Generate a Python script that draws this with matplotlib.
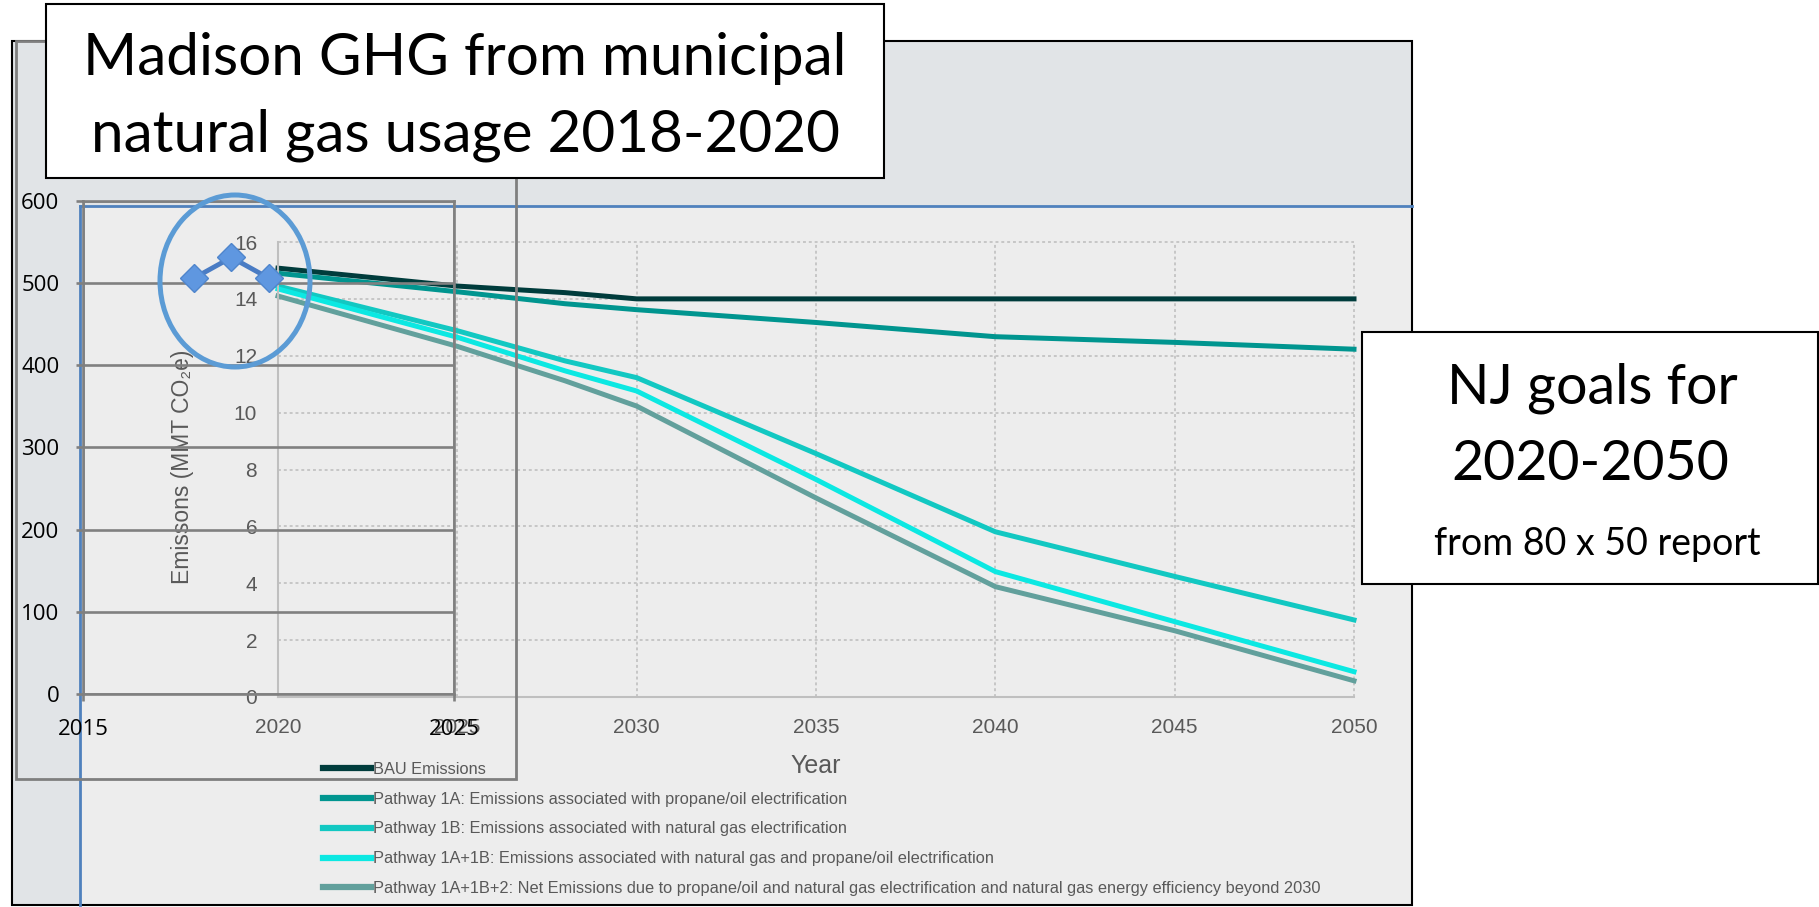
import matplotlib
matplotlib.use('Agg')

import matplotlib.pyplot as plt
from matplotlib import font_manager
from matplotlib.patches import Rectangle, Ellipse

W, H = 1819, 907

# NJ 80x50 report pathways, MMT CO2e
nj_years = [2020, 2025, 2028, 2030, 2035, 2040, 2045, 2050]
bau = [15.08, 14.45, 14.22, 14.0, 14.0, 14.0, 14.0, 14.0]
path_1a = [14.9, 14.25, 13.83, 13.62, 13.17, 12.67, 12.47, 12.23]
path_1b = [14.45, 12.88, 11.82, 11.23, 8.56, 5.81, 4.24, 2.71]
path_1a1b = [14.35, 12.65, 11.47, 10.76, 7.65, 4.41, 2.65, 0.89]
path_1a1b2 = [14.1, 12.33, 11.12, 10.23, 7.0, 3.88, 2.33, 0.57]
nj_labels = [
    'BAU Emissions',
    'Pathway 1A: Emissions associated with propane/oil electrification',
    'Pathway 1B: Emissions associated with natural gas electrification',
    'Pathway 1A+1B: Emissions associated with natural gas and propane/oil electrification',
    'Pathway 1A+1B+2: Net Emissions due to propane/oil and natural gas electrification '
    'and natural gas energy efficiency beyond 2030',
]
nj_colors = ['#003c3c', '#00958f', '#12c8c2', '#0ce8e2', '#62a09c']

# Madison municipal natural gas GHG
mad_years = [2018, 2019, 2020]
mad_ghg = [506, 531, 506]

installed = {f.name for f in font_manager.fontManager.ttflist}
if 'Liberation Sans Narrow' in installed:
    narrow, leg_size = 'Liberation Sans Narrow', 14.0
else:
    narrow, leg_size = 'Liberation Sans', 11.8

plt.rcParams['font.family'] = ['Liberation Sans', 'DejaVu Sans']

fig = plt.figure(figsize=(W / 100, H / 100), dpi=100)


def px_axes(left, top, right, bottom, **kw):
    return fig.add_axes([left / W, 1 - bottom / H, (right - left) / W, (bottom - top) / H], **kw)


# slide background / frame
bg = fig.add_axes([0, 0, 1, 1], zorder=0)
bg.set_xlim(0, W)
bg.set_ylim(H, 0)
bg.axis('off')
bg.add_patch(Rectangle((12, 41), 1400, 864, facecolor='#e1e4e7', edgecolor='none'))
bg.add_patch(Rectangle((80, 206), 1332, 699, facecolor='#ededed', edgecolor='none'))
bg.plot([80, 1412], [206, 206], color='#4f81bd', lw=2)
bg.plot([80, 80], [206, 905], color='#4f81bd', lw=2)
bg.add_patch(Rectangle((12, 41), 1400, 864, fill=False, edgecolor='black', lw=1.5))

# NJ chart
nj = px_axes(278, 242, 1354, 697, zorder=1)
nj.set_facecolor('none')
for vals, lab, col in zip([bau, path_1a, path_1b, path_1a1b, path_1a1b2], nj_labels, nj_colors):
    nj.plot(nj_years, vals, color=col, lw=3.6, label=lab, clip_on=False)
nj.set_xlim(2020, 2050)
nj.set_ylim(0, 16)
nj.set_xticks(range(2020, 2051, 5))
nj.set_yticks(range(0, 17, 2))
nj.grid(True, color='#c6c6c6', lw=1.4, ls=(0, (1.5, 1.5)))
nj.set_axisbelow(True)
for gl in nj.get_xgridlines() + nj.get_ygridlines():
    gl.set_clip_on(False)
for s in ['top', 'right']:
    nj.spines[s].set_visible(False)
for s in ['left', 'bottom']:
    nj.spines[s].set_color('#bfbfbf')
    nj.spines[s].set_linewidth(1.5)
nj.tick_params(length=0, pad=15, labelsize=15, labelcolor='#595959')
nj.set_ylabel('Emissons (MMT CO₂e)', fontsize=16.5, color='#595959')
nj.yaxis.set_label_coords(-0.0883, 0.5055)
nj.yaxis.label.set_va('center')
nj.set_xlabel('Year', fontsize=18, color='#595959')
nj.xaxis.set_label_coords(0.5, -0.1516)
nj.xaxis.label.set_va('center')
leg = nj.legend(loc='upper left', bbox_to_anchor=(323 / W, 1 - 762 / H),
                bbox_transform=fig.transFigure, frameon=False,
                prop={'family': narrow, 'size': leg_size},
                handlelength=2.9, handletextpad=0.15, labelspacing=0.9,
                borderpad=0, borderaxespad=0)
for t in leg.get_texts():
    t.set_color('#595959')
for h in leg.get_lines():
    h.set_linewidth(4.5)

# Madison overlay chart
mad = px_axes(83, 200.7, 454, 694, zorder=2)
mad.set_facecolor('none')
mad.plot(mad_years, mad_ghg, color='#4a7cc4', lw=3.5, marker='D', ms=14,
         mfc='#5f97e0', mec='#4f85cc', clip_on=False)
mad.set_xlim(2015, 2025)
mad.set_ylim(0, 600)
mad.set_xticks([2015, 2025])
mad.set_yticks(range(0, 601, 100))
mad.grid(True, color='#808080', lw=1.9)
for s in mad.spines.values():
    s.set_color('#808080')
    s.set_linewidth(1.9)
mad.tick_params(direction='out', length=5, width=1.9, color='#808080',
                labelsize=16, labelcolor='black')
mad.tick_params(axis='y', pad=12)
mad.tick_params(axis='x', pad=13)
for lab in mad.get_xticklabels() + mad.get_yticklabels():
    lab.set_family('Open Sans')

# annotations on top
ov = fig.add_axes([0, 0, 1, 1], zorder=3)
ov.set_xlim(0, W)
ov.set_ylim(H, 0)
ov.axis('off')
ov.add_patch(Rectangle((16, 41), 500, 738, fill=False, edgecolor='#7f7f7f', lw=2))
ov.add_patch(Ellipse((235, 281), 150, 172, fill=False, edgecolor='#5b9bd5', lw=3.6))
ov.add_patch(Rectangle((46, 4), 838, 174, facecolor='white', edgecolor='black', lw=1.5))
ov.text(465, 75, 'Madison GHG from municipal', ha='center', va='baseline',
        fontsize=42, family='Lato')
ov.text(465, 152, 'natural gas usage 2018-2020', ha='center', va='baseline',
        fontsize=42, family='Lato')
ov.add_patch(Rectangle((1362, 332), 456, 252, facecolor='white', edgecolor='black', lw=1.5))
ov.text(1592, 403, 'NJ goals for', ha='center', va='baseline', fontsize=40, family='Lato')
ov.text(1590, 480, '2020-2050', ha='center', va='baseline', fontsize=40, family='Lato')
ov.text(1597, 555, 'from 80 x 50 report', ha='center', va='baseline', fontsize=27, family='Lato')

fig.savefig('out.png', dpi=100)
